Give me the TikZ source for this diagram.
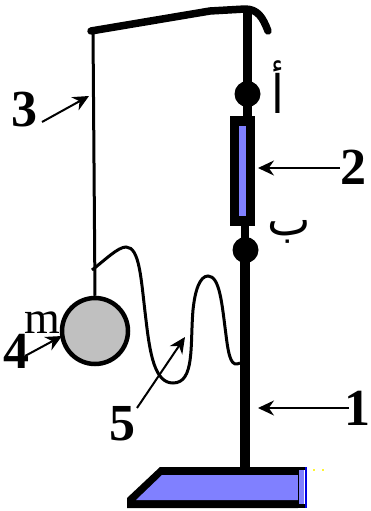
\documentclass[tikz,border=0pt]{standalone}
\usepackage{fontspec}
\setmainfont{Liberation Serif}
\newfontfamily\arabicfont[Script=Arabic]{DejaVu Sans}
\TeXXeTstate=1
\usetikzlibrary{arrows.meta}
\definecolor{paleblue}{HTML}{8080FF}
\definecolor{ballgray}{HTML}{C0C0C0}
\tikzset{x=1pt,y=-1pt,
  lead/.style={line width=2pt,-{Stealth[length=16pt,width=15pt]},black},
  numlabel/.style={inner sep=0pt,font=\fontsize{52}{52}\selectfont\bfseries},
  joint/.style={circle,fill=black,minimum size=26pt,inner sep=0pt},
  arabiclabel/.style={inner sep=0pt,font=\arabicfont\fontsize{46}{46}\selectfont}}
\begin{document}
\begin{tikzpicture}
\useasboundingbox (0,0) rectangle (371,511);
% base
\fill[black] (160,467) -- (298,467) -- (298,508) -- (127,508) -- (127,498) -- cycle;
\fill[paleblue] (162,475) -- (298,475) -- (298,500) -- (136,500) -- cycle;
\fill[paleblue] (298,470) rectangle (304,504);
\fill[black] (297,467) rectangle (306,470);
\fill[black] (297,504) rectangle (306,508);
\draw[line width=2pt,blue!90!black] (306,467) -- (306,508);
\draw[line width=1pt,black] (298,467) -- (298,508);
\fill[yellow!80!white] (313,469) rectangle (315,471);
\fill[yellow!80!white] (322,469) rectangle (324,471);
% stand
\draw[line width=10pt] (244.5,250) -- (244.5,470);
\draw[line width=8.5pt] (247.5,10) -- (247.5,116);
\draw[line width=8.5pt] (245,226) -- (245,250);
\draw[line width=7.5pt,line cap=round,line join=round] (91,31) -- (210,11) -- (245,9)
  .. controls (258,9) and (263,18) .. (268,31);
\node[joint] (jointA) at (247.5,94) {};
\node[joint] (jointB) at (245.5,250) {};
% spring scale body
\fill[black] (230,116) rectangle (255,226);
\fill[paleblue] (239,126) rectangle (246,216);
% string and ball
\node[circle,draw=black,line width=4.5pt,fill=ballgray,minimum size=66pt,inner sep=0pt] (ball) at (95,331) {};
\coordinate (hook) at (93,31);
\draw[line width=3pt] (hook) -- (ball.north);
% wavy wire
\draw[line width=3pt] (92,270) .. controls (105,260) and (118,247) .. (126,247)
  .. controls (140,247) and (141,280) .. (146,320)
  .. controls (150,355) and (155,383) .. (173,383)
  .. controls (195,383) and (190,345) .. (193,310)
  .. controls (195,290) and (200,276) .. (208,276)
  .. controls (220,276) and (222,305) .. (226,335)
  .. controls (229,360) and (232,367) .. (240,363);
% labels
\node[numlabel] (n3) at (25,110) {3};
\node[numlabel] (n2) at (353,167) {2};
\node[numlabel] (n1) at (357,408) {1};
\node[numlabel] (n5) at (122,424) {5};
\node[numlabel] (n4) at (17,351) {4};
\node[inner sep=0pt,font=\fontsize{46}{46}\selectfont] (m) at (42,323) {m};
\node[arabiclabel,yscale=1.15] (alef) at (278,87) {\beginR أ\endR};
\node[arabiclabel] (beh) at (289,232) {\beginR ب\endR};
% leaders
\coordinate (t3) at (89,96);
\coordinate (t2) at (258,168);
\coordinate (t1) at (258,408);
\coordinate (t5) at (185,337);
\coordinate (t4) at (62,336);
\coordinate (s3) at (42,122);
\coordinate (s2) at (340,168);
\coordinate (s1) at (349,408);
\coordinate (s5) at (137,408);
\coordinate (s4) at (25,356);
\draw[lead] (s3) -- (t3);
\draw[lead] (s2) -- (t2);
\draw[lead] (s1) -- (t1);
\draw[lead] (s5) -- (t5);
\draw[lead] (s4) -- (t4);
\end{tikzpicture}
\end{document}
